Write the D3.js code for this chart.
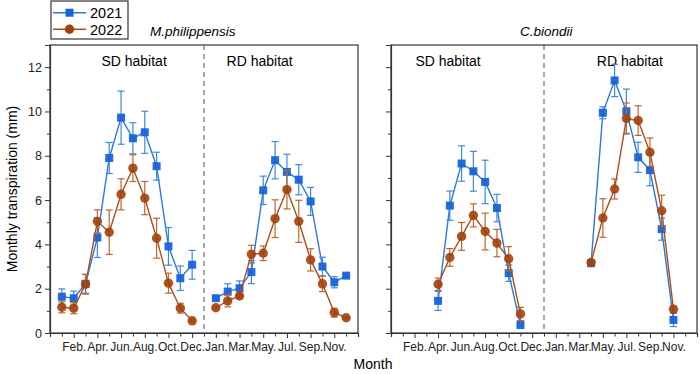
<!DOCTYPE html>
<html>
<head>
<meta charset="utf-8">
<script src="https://cdn.jsdelivr.net/npm/d3@7"></script>
<style>
  body { margin: 0; background: #fff; }
  svg { font-family: "Liberation Sans", Arial, sans-serif; }
  .axis path, .axis line { stroke: #333; }
  .axis text { fill: #222; font-size: 12px; }
</style>
</head>
<body>
<div id="chart"></div>
<script>
// month slots: 1..12 = SD habitat, 14..25 = RD habitat, dashed separator at 13
var months = ["Jan.", "Feb.", "Mar.", "Apr.", "May.", "Jun.", "Jul.", "Aug.", "Sep.", "Oct.", "Nov.", "Dec."];
var years = ["2021", "2022"];
var yTicks = [0, 2, 4, 6, 8, 10, 12];

// M.philippensis
var mpSD2021 = [1.64, 1.57, 2.22, 4.31, 7.9, 9.72, 8.79, 9.06, 7.53, 3.91, 2.47, 3.08];
var mpSD2021err = [0.35, 0.32, 0.42, 0.9, 0.7, 1.2, 0.7, 0.95, 0.63, 0.85, 0.55, 0.65];
var mpSD2022 = [1.16, 1.12, 2.2, 5.04, 4.55, 6.26, 7.44, 6.09, 4.28, 2.25, 1.12, 0.55];
var mpSD2022err = [0.25, 0.25, 0.45, 0.52, 1.0, 0.7, 0.6, 0.75, 0.9, 0.45, 0.22, 0.05];
var mpRD2021 = [1.57, 1.87, 2.02, 2.75, 6.44, 7.8, 7.27, 6.92, 5.94, 3.0, 2.29, 2.59];
var mpRD2021err = [0.05, 0.35, 0.33, 0.52, 0.64, 0.84, 0.8, 0.68, 0.63, 0.42, 0.25, 0.08];
var mpRD2022 = [1.14, 1.45, 1.67, 3.56, 3.6, 5.16, 6.47, 5.04, 3.3, 2.22, 0.92, 0.69];
var mpRD2022err = [0.05, 0.27, 0.1, 0.4, 0.33, 0.85, 0.87, 0.95, 0.5, 0.35, 0.2, 0.05];

// C.biondii
var cbSD2021 = [null, null, null, 1.45, 5.75, 7.65, 7.3, 6.82, 5.64, 2.7, 0.36, null];
var cbSD2021err = [0, 0, 0, 0.43, 0.66, 0.8, 0.9, 0.98, 0.62, 0.37, 0.05, 0];
var cbSD2022 = [null, null, null, 2.2, 3.41, 4.36, 5.31, 4.58, 4.06, 3.35, 0.86, null];
var cbSD2022err = [0, 0, 0, 0.28, 0.4, 0.63, 0.52, 0.83, 0.62, 0.55, 0.3, 0];
var cbRD2021 = [null, null, null, 3.15, 9.94, 11.4, 10.01, 7.93, 7.35, 4.69, 0.59, null];
var cbRD2021err = [0, 0, 0, 0.05, 0.27, 0.73, 1.0, 0.68, 0.7, 0.5, 0.3, 0];
var cbRD2022 = [null, null, null, 3.18, 5.19, 6.5, 9.68, 9.59, 8.16, 5.52, 1.07, null];
var cbRD2022err = [0, 0, 0, 0.05, 0.87, 0.45, 0.7, 0.67, 0.64, 0.7, 0.15, 0];

var colors = {
  "2021": {line: "#2a78dc", mark: "#1764d8", err: "#3f88de"},
  "2022": {line: "#a84f1c", mark: "#a3410c", err: "#b8672f"}
};

var width = 700, height = 374;
var margin = {top: 45, bottom: 41};
var panelsX = [[50, 358], [391, 697]];

var svg = d3.select("#chart").append("svg")
  .attr("width", width)
  .attr("height", height);

var y = d3.scaleLinear().domain([0, 13]).range([height - margin.bottom, margin.top]);

function toSeries(sd, sdErr, rd, rdErr) {
  var pts = [];
  sd.forEach(function(v, i) { pts.push({slot: i + 1, v: v, e: sdErr[i]}); });
  rd.forEach(function(v, i) { pts.push({slot: i + 14, v: v, e: rdErr[i]}); });
  return pts;
}

var panels = [
  {title: "M.philippensis", titleX: 150, yLabels: true, sdX: 7.1, rdX: 17.7,
   series: {"2021": toSeries(mpSD2021, mpSD2021err, mpRD2021, mpRD2021err),
            "2022": toSeries(mpSD2022, mpSD2022err, mpRD2022, mpRD2022err)}},
  {title: "C.biondii", titleX: 520, yLabels: false, sdX: 4.85, rdX: 20.3,
   series: {"2021": toSeries(cbSD2021, cbSD2021err, cbRD2021, cbRD2021err),
            "2022": toSeries(cbSD2022, cbSD2022err, cbRD2022, cbRD2022err)}}
];

function tickLabel(d) {
  if (d % 2 != 0 || d < 2 || d > 24) return "";
  return d <= 12 ? months[d - 1] : months[d - 14];
}

panels.forEach(function(p, pi) {
  var x = d3.scaleLinear().domain([0, 26]).range(panelsX[pi]);
  var g = svg.append("g");

  // frame
  g.append("rect")
    .attr("x", x(0)).attr("y", y(13))
    .attr("width", x(26) - x(0)).attr("height", y(0) - y(13))
    .attr("fill", "none").attr("stroke", "#333").attr("stroke-width", 1.2);

  // separator
  g.append("line")
    .attr("x1", x(13)).attr("x2", x(13))
    .attr("y1", y(13)).attr("y2", y(0))
    .attr("stroke", "#555").attr("stroke-dasharray", "5,4");

  var xAxis = d3.axisBottom(x)
    .tickValues(d3.range(1, 26))
    .tickSize(4).tickPadding(5)
    .tickFormat(tickLabel);
  var gx = g.append("g").attr("class", "axis")
    .attr("transform", "translate(0," + y(0) + ")")
    .call(xAxis);
  gx.select(".domain").attr("stroke-width", 1.2);
  gx.selectAll(".tick line").attr("y2", function(d) { return d % 2 == 0 ? 5 : 3.5; });

  var yAxis = d3.axisLeft(y)
    .tickValues(d3.range(0, 13))
    .tickSize(5).tickPadding(3)
    .tickFormat(function(d) { return p.yLabels && yTicks.indexOf(d) >= 0 ? d : ""; });
  var gy = g.append("g").attr("class", "axis")
    .attr("transform", "translate(" + x(0) + ",0)")
    .call(yAxis);
  gy.select(".domain").attr("stroke-width", 1.2);
  gy.selectAll(".tick line").attr("x2", function(d) { return d % 2 == 0 ? -5 : -3; });
  gy.selectAll(".tick text").style("font-size", "12.5px");

  // habitat labels
  g.append("text").attr("x", x(p.sdX)).attr("y", 66)
    .attr("text-anchor", "middle").style("font-size", "14px").text("SD habitat");
  g.append("text").attr("x", x(p.rdX)).attr("y", 66)
    .attr("text-anchor", "middle").style("font-size", "14px").text("RD habitat");

  // species title
  svg.append("text").attr("x", p.titleX).attr("y", 36)
    .style("font-size", "13.5px").style("font-style", "italic").text(p.title);

  years.forEach(function(yr) {
    var c = colors[yr];
    var data = p.series[yr].filter(function(d) { return d.v != null; });
    var line = d3.line()
      .defined(function(d) { return d.v != null; })
      .x(function(d) { return x(d.slot); })
      .y(function(d) { return y(d.v); });

    // one path per habitat so they do not connect across the separator
    [data.filter(function(d) { return d.slot < 13; }), data.filter(function(d) { return d.slot > 13; })]
      .forEach(function(seg) {
        g.append("path").datum(seg)
          .attr("fill", "none").attr("stroke", c.line).attr("stroke-width", 1.4)
          .attr("d", line);
      });

    var eb = g.append("g").selectAll("g").data(data).enter().append("g")
      .attr("stroke", c.err).attr("stroke-width", 1.2);
    eb.append("line")
      .attr("x1", function(d) { return x(d.slot); })
      .attr("x2", function(d) { return x(d.slot); })
      .attr("y1", function(d) { return y(d.v - d.e); })
      .attr("y2", function(d) { return y(d.v + d.e); });
    [1, -1].forEach(function(s) {
      eb.append("line")
        .attr("x1", function(d) { return x(d.slot) - 3.5; })
        .attr("x2", function(d) { return x(d.slot) + 3.5; })
        .attr("y1", function(d) { return y(d.v + s * d.e); })
        .attr("y2", function(d) { return y(d.v + s * d.e); });
    });

    if (yr == "2021") {
      g.append("g").selectAll("rect").data(data).enter().append("rect")
        .attr("x", function(d) { return x(d.slot) - 4; })
        .attr("y", function(d) { return y(d.v) - 4; })
        .attr("width", 8).attr("height", 8)
        .attr("fill", c.mark).attr("fill-opacity", 0.95);
    } else {
      g.append("g").selectAll("circle").data(data).enter().append("circle")
        .attr("cx", function(d) { return x(d.slot); })
        .attr("cy", function(d) { return y(d.v); })
        .attr("r", 4.7)
        .attr("fill", c.mark).attr("fill-opacity", 0.9);
    }
  });
});

// axis titles
svg.append("text")
  .attr("transform", "translate(17," + y(6.5) + ") rotate(-90)")
  .attr("text-anchor", "middle").style("font-size", "14px")
  .text("Monthly transpiration (mm)");
svg.append("text")
  .attr("x", 373).attr("y", 369)
  .attr("text-anchor", "middle").style("font-size", "14px")
  .text("Month");

// legend
var legend = svg.append("g");
legend.append("rect")
  .attr("x", 51).attr("y", 1).attr("width", 77).attr("height", 38)
  .attr("fill", "#fff").attr("stroke", "#333").attr("stroke-width", 1.2);
years.forEach(function(yr, i) {
  var c = colors[yr];
  var ly = 12.7 + i * 16.6;
  legend.append("line")
    .attr("x1", 53).attr("x2", 86).attr("y1", ly).attr("y2", ly)
    .attr("stroke", c.line).attr("stroke-width", 1.4);
  if (i == 0) {
    legend.append("rect").attr("x", 65.5).attr("y", ly - 4).attr("width", 8).attr("height", 8)
      .attr("fill", c.mark);
  } else {
    legend.append("circle").attr("cx", 69.5).attr("cy", ly).attr("r", 4.7).attr("fill", c.mark);
  }
  legend.append("text")
    .attr("x", 90).attr("y", ly + 5.2)
    .style("font-size", "14.5px").text(yr);
});
</script>
</body>
</html>
